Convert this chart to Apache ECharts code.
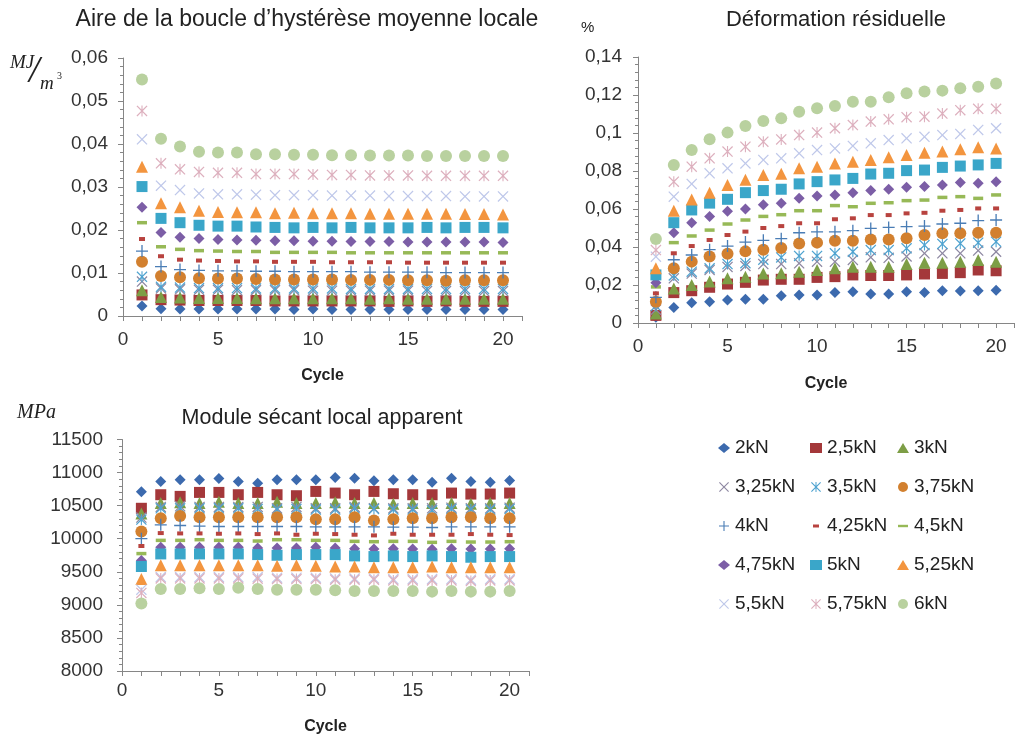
<!DOCTYPE html>
<html><head><meta charset="utf-8">
<script src="https://cdn.jsdelivr.net/npm/echarts@6/dist/echarts.min.js"></script>
<style>html,body{margin:0;padding:0;background:#fff}#c{width:1017px;height:736px}</style>
</head><body><div id="c"></div>
<script>
const cycles = [1,2,3,4,5,6,7,8,9,10,11,12,13,14,15,16,17,18,19,20];
const loads = ['2kN','2,5kN','3kN','3,25kN','3,5kN','3,75kN','4kN','4,25kN','4,5kN','4,75kN','5kN','5,25kN','5,5kN','5,75kN','6kN'];

// Aire de la boucle d'hystérèse moyenne locale (MJ/m3), one row per load
const aireValues = [
 [0.0023,0.0017,0.0016,0.0016,0.0016,0.0016,0.0016,0.0016,0.0015,0.0016,0.0015,0.0015,0.0015,0.0015,0.0015,0.0015,0.0015,0.0015,0.0015,0.0015],
 [0.0049,0.0038,0.0037,0.0036,0.0036,0.0036,0.0036,0.0035,0.0035,0.0035,0.0035,0.0035,0.0035,0.0034,0.0035,0.0034,0.0035,0.0034,0.0034,0.0034],
 [0.0060,0.0044,0.0043,0.0042,0.0042,0.0042,0.0041,0.0041,0.0041,0.0041,0.0041,0.0041,0.0040,0.0041,0.0040,0.0040,0.0040,0.0040,0.0040,0.0040],
 [0.0080,0.0064,0.0062,0.0061,0.0061,0.0060,0.0060,0.0060,0.0060,0.0059,0.0059,0.0059,0.0059,0.0059,0.0059,0.0058,0.0058,0.0058,0.0058,0.0058],
 [0.0091,0.0068,0.0066,0.0065,0.0065,0.0065,0.0064,0.0064,0.0064,0.0064,0.0064,0.0063,0.0063,0.0063,0.0063,0.0063,0.0063,0.0063,0.0063,0.0063],
 [0.0126,0.0093,0.0090,0.0088,0.0087,0.0087,0.0086,0.0085,0.0085,0.0085,0.0085,0.0084,0.0084,0.0084,0.0083,0.0083,0.0082,0.0083,0.0083,0.0083],
 [0.0151,0.0115,0.0108,0.0106,0.0105,0.0105,0.0104,0.0104,0.0103,0.0103,0.0103,0.0103,0.0102,0.0102,0.0102,0.0102,0.0101,0.0101,0.0101,0.0101],
 [0.0179,0.0139,0.0131,0.0129,0.0128,0.0127,0.0127,0.0126,0.0126,0.0126,0.0125,0.0125,0.0125,0.0125,0.0124,0.0124,0.0124,0.0124,0.0124,0.0124],
 [0.0217,0.0161,0.0155,0.0152,0.0151,0.0150,0.0150,0.0148,0.0148,0.0148,0.0148,0.0147,0.0147,0.0147,0.0147,0.0147,0.0147,0.0147,0.0147,0.0147],
 [0.0253,0.0194,0.0183,0.0180,0.0178,0.0177,0.0176,0.0175,0.0175,0.0174,0.0174,0.0173,0.0173,0.0173,0.0172,0.0172,0.0172,0.0172,0.0172,0.0171],
 [0.0301,0.0227,0.0217,0.0211,0.0209,0.0209,0.0207,0.0206,0.0205,0.0206,0.0205,0.0206,0.0205,0.0205,0.0205,0.0206,0.0205,0.0206,0.0206,0.0205],
 [0.0347,0.0262,0.0253,0.0245,0.0242,0.0241,0.0241,0.0239,0.0240,0.0239,0.0239,0.0239,0.0238,0.0238,0.0238,0.0238,0.0238,0.0237,0.0237,0.0236],
 [0.0411,0.0303,0.0293,0.0285,0.0283,0.0283,0.0282,0.0281,0.0281,0.0281,0.0280,0.0280,0.0280,0.0279,0.0279,0.0279,0.0279,0.0278,0.0278,0.0278],
 [0.0477,0.0355,0.0341,0.0335,0.0333,0.0333,0.0330,0.0330,0.0330,0.0329,0.0328,0.0328,0.0327,0.0327,0.0327,0.0326,0.0326,0.0326,0.0326,0.0326],
 [0.0550,0.0412,0.0394,0.0382,0.0380,0.0380,0.0376,0.0376,0.0375,0.0375,0.0374,0.0374,0.0373,0.0373,0.0373,0.0372,0.0372,0.0372,0.0372,0.0372]
];

// Déformation résiduelle (%), one row per load
const deformationValues = [
 [0.0030,0.0081,0.0107,0.0112,0.0121,0.0125,0.0125,0.0144,0.0147,0.0147,0.0161,0.0165,0.0153,0.0153,0.0165,0.0160,0.0170,0.0168,0.0170,0.0172],
 [0.0040,0.0160,0.0170,0.0188,0.0205,0.0214,0.0226,0.0230,0.0230,0.0240,0.0244,0.0253,0.0250,0.0250,0.0253,0.0258,0.0261,0.0265,0.0279,0.0275],
 [0.0050,0.0182,0.0200,0.0218,0.0235,0.0244,0.0261,0.0262,0.0270,0.0279,0.0288,0.0296,0.0296,0.0296,0.0310,0.0317,0.0317,0.0323,0.0332,0.0323],
 [0.0070,0.0235,0.0260,0.0279,0.0295,0.0300,0.0310,0.0310,0.0314,0.0323,0.0323,0.0332,0.0346,0.0343,0.0350,0.0367,0.0367,0.0367,0.0381,0.0375],
 [0.0090,0.0250,0.0270,0.0288,0.0310,0.0315,0.0333,0.0345,0.0353,0.0353,0.0367,0.0375,0.0384,0.0384,0.0393,0.0410,0.0416,0.0419,0.0423,0.0428],
 [0.0112,0.0288,0.0323,0.0350,0.0365,0.0377,0.0386,0.0395,0.0419,0.0423,0.0433,0.0433,0.0440,0.0440,0.0446,0.0463,0.0472,0.0472,0.0475,0.0475],
 [0.0135,0.0333,0.0358,0.0386,0.0405,0.0426,0.0435,0.0444,0.0475,0.0480,0.0480,0.0486,0.0498,0.0503,0.0507,0.0510,0.0521,0.0525,0.0539,0.0542],
 [0.0156,0.0367,0.0405,0.0437,0.0463,0.0481,0.0500,0.0510,0.0525,0.0525,0.0546,0.0551,0.0568,0.0568,0.0577,0.0580,0.0591,0.0595,0.0603,0.0603],
 [0.0190,0.0423,0.0458,0.0489,0.0521,0.0542,0.0561,0.0570,0.0591,0.0591,0.0618,0.0612,0.0630,0.0633,0.0644,0.0647,0.0661,0.0665,0.0656,0.0674],
 [0.0212,0.0475,0.0528,0.0560,0.0588,0.0600,0.0623,0.0630,0.0656,0.0668,0.0674,0.0686,0.0697,0.0704,0.0714,0.0718,0.0726,0.0739,0.0735,0.0744],
 [0.0253,0.0528,0.0595,0.0631,0.0651,0.0686,0.0697,0.0704,0.0732,0.0744,0.0753,0.0761,0.0784,0.0788,0.0802,0.0805,0.0819,0.0826,0.0832,0.0840],
 [0.0288,0.0591,0.0650,0.0686,0.0726,0.0754,0.0779,0.0786,0.0814,0.0823,0.0840,0.0849,0.0858,0.0872,0.0884,0.0896,0.0902,0.0914,0.0925,0.0918],
 [0.0349,0.0665,0.0732,0.0788,0.0814,0.0840,0.0858,0.0867,0.0893,0.0910,0.0919,0.0932,0.0946,0.0963,0.0972,0.0980,0.0989,0.0995,0.1016,0.1025],
 [0.0384,0.0744,0.0823,0.0867,0.0902,0.0928,0.0954,0.0966,0.0989,0.1002,0.1025,0.1042,0.1060,0.1072,0.1083,0.1086,0.1102,0.1120,0.1127,0.1127],
 [0.0442,0.0832,0.0910,0.0967,0.1002,0.1037,0.1063,0.1077,0.1112,0.1130,0.1142,0.1165,0.1165,0.1188,0.1209,0.1218,0.1223,0.1235,0.1244,0.1261]
];

// Module sécant local apparent (MPa), one row per load
const moduleValues = [
 [10710,10865,10890,10890,10910,10865,10840,10890,10890,10890,10925,10915,10875,10890,10890,10855,10915,10865,10855,10880],
 [10460,10665,10640,10700,10700,10665,10700,10665,10650,10715,10690,10665,10715,10680,10665,10665,10690,10675,10675,10690],
 [10380,10540,10550,10540,10560,10540,10540,10560,10540,10540,10550,10540,10540,10530,10540,10540,10540,10530,10540,10540],
 [10320,10480,10490,10480,10480,10480,10480,10460,10480,10460,10460,10480,10460,10460,10460,10460,10470,10460,10460,10470],
 [10290,10460,10460,10460,10460,10460,10450,10440,10450,10440,10440,10460,10450,10440,10440,10430,10450,10440,10440,10450],
 [10110,10310,10345,10325,10325,10325,10325,10325,10325,10295,10295,10325,10275,10295,10310,10310,10325,10325,10310,10310],
 [10000,10210,10200,10190,10185,10185,10185,10185,10185,10180,10180,10180,10180,10175,10175,10170,10180,10180,10180,10180],
 [9890,10085,10080,10080,10075,10080,10070,10080,10060,10075,10070,10060,10050,10075,10060,10060,10060,10070,10060,10055],
 [9775,9975,9975,9985,9975,9975,9965,9985,9985,9975,9975,9960,9955,9960,9960,9945,9960,9950,9950,9955],
 [9670,9870,9870,9870,9870,9870,9860,9860,9860,9870,9860,9850,9845,9850,9845,9840,9850,9845,9845,9850],
 [9580,9770,9770,9770,9770,9770,9760,9750,9760,9760,9760,9740,9730,9740,9730,9740,9730,9720,9730,9730],
 [9390,9600,9600,9600,9600,9600,9600,9590,9600,9590,9580,9580,9570,9570,9570,9580,9570,9570,9570,9570],
 [9230,9420,9420,9420,9420,9420,9420,9410,9410,9410,9400,9400,9400,9390,9390,9390,9390,9380,9390,9390],
 [9180,9400,9400,9400,9400,9400,9395,9390,9390,9390,9380,9380,9380,9370,9370,9370,9370,9360,9370,9370],
 [9020,9240,9240,9250,9240,9260,9240,9230,9230,9230,9220,9210,9210,9210,9210,9200,9210,9200,9200,9210]
];

// marker styles
const P_X = 'path://M0,0.8L0.8,0L5,4.2L9.2,0L10,0.8L5.8,5L10,9.2L9.2,10L5,5.8L0.8,10L0,9.2L4.2,5Z';
const P_AST = 'path://M0,0.8L0.8,0L5,4.2L9.2,0L10,0.8L5.8,5L10,9.2L9.2,10L5,5.8L0.8,10L0,9.2L4.2,5Z M4.5,0H5.5V10H4.5Z';
const P_PLUS = 'path://M4.45,0H5.55V4.45H10V5.55H5.55V10H4.45V5.55H0V4.45H4.45Z';
const colors = ['#3C6AAE','#A4383A','#7D9E46','#8E88A2','#4FA3D0','#D2802F','#4A7DB5','#B8433F','#97B957','#7C5EA6','#3AA6C9','#F3953F','#BFC8EA','#DDB0BE','#B9D19F'];
const symbols = ['diamond','rect','triangle',P_X,P_AST,'circle',P_PLUS,'rect','rect','diamond','rect','triangle',P_X,P_AST,'circle'];
const sizes = [11,11,12,11,11,12,12,[6,4],[10,3.5],11,11,12,11,11,12];
const legendIcons = ['diamond','rect','triangle',P_X,P_AST,'circle',P_PLUS,
  'path://M0,0M10,10M2,3.5H8V6.5H2Z','path://M0,0M10,10M0,3.8H10V6.2H0Z','diamond','rect','triangle',P_X,P_AST,'circle'];

const FONT = "'Liberation Sans', Arial, sans-serif";
const axisColor = '#868686';
const labelStyle = {color:'#333', fontSize:19, fontFamily:FONT};

function xAxisCfg(gi, margin, gap){
  return {type:'value', gridIndex:gi, min:0, max:21, interval:1,
    name:'Cycle', nameLocation:'middle', nameGap:gap,
    nameTextStyle:{fontWeight:'bold', fontSize:16, color:'#222', fontFamily:FONT},
    axisLine:{show:true, lineStyle:{color:axisColor}},
    axisTick:{show:true, length:5, lineStyle:{color:axisColor}},
    axisLabel:Object.assign({margin:margin, formatter:v => (v % 5 === 0 ? String(v) : '')}, labelStyle),
    splitLine:{show:false}};
}
function yAxisCfg(gi, min, max, interval, fmt, margin){
  return {type:'value', gridIndex:gi, min:min, max:max, interval:interval,
    axisLine:{show:true, lineStyle:{color:axisColor}},
    axisTick:{show:true, length:5, lineStyle:{color:axisColor}},
    minorTick:{show:true, splitNumber:5, length:3, lineStyle:{color:axisColor}},
    axisLabel:Object.assign({margin:margin, formatter:fmt}, labelStyle),
    splitLine:{show:false}};
}
const decFmt = v => String(Math.round(v*1000)/1000).replace('.', ',');

const series = [];
[aireValues, deformationValues, moduleValues].forEach((tbl, gi) => {
  loads.forEach((name, li) => {
    series.push({type:'scatter', name:name, xAxisIndex:gi, yAxisIndex:gi,
      symbol:symbols[li], symbolSize:sizes[li], symbolKeepAspect:false,
      itemStyle:{color:colors[li], opacity:1},
      emphasis:{disabled:true},
      data: cycles.map((c, i) => [c, tbl[li][i]])});
  });
});

const legendLefts = [713, 805, 892];
const legends = [0,1,2].map(col => ({
  orient:'vertical', left:legendLefts[col], top:433, itemGap:19, itemWidth:12, itemHeight:10,
  selectedMode:false,
  textStyle:{fontSize:19, color:'#222', fontFamily:FONT, lineHeight:20},
  data: loads.map((n, i) => ({name:n, icon:legendIcons[i], itemStyle:{color:colors[i]}})).filter((_, i) => i % 3 === col)
}));

const txt = (text, x, y, font, align) => ({type:'text', x:x, y:y, silent:true,
  style:{text:text, font:font, fill:'#222', align:align||'left', textAlign:align||'left', verticalAlign:'middle', textVerticalAlign:'middle'}});

const option = {
  animation:false,
  backgroundColor:'#fff',
  grid:[
    {left:123, top:58, width:399, height:258},
    {left:638, top:57, width:379, height:266},
    {left:122, top:439.5, width:407, height:232}
  ],
  xAxis:[xAxisCfg(0, 14, 52), xAxisCfg(1, 14, 53), xAxisCfg(2, 10, 48)],
  yAxis:[
    yAxisCfg(0, 0, 0.06, 0.01, decFmt, 15),
    yAxisCfg(1, 0, 0.14, 0.02, decFmt, 16),
    yAxisCfg(2, 8000, 11500, 500, v => String(v), 19)
  ],
  legend:legends,
  series:series,
  graphic:[
    txt('Aire de la boucle d\u2019hystérèse moyenne locale', 307, 20, "23px 'Liberation Sans'", 'center'),
    txt('Déformation résiduelle', 836, 20, "22px 'Liberation Sans'", 'center'),
    txt('Module sécant local apparent', 322, 418, "21.5px 'Liberation Sans'", 'center'),
    txt('MJ', 10, 63, "italic 19px 'Liberation Serif'"),
    txt('/', 29, 72, "italic 38px 'Liberation Serif'"),
    txt('m', 40, 84, "italic 19px 'Liberation Serif'"),
    txt('3', 57, 76, "10px 'Liberation Serif'"),
    txt('%', 581, 28, "15px 'Liberation Sans'"),
    txt('MPa', 17, 413, "italic 20px 'Liberation Serif'")
  ]
};
echarts.init(document.getElementById('c'), null, {renderer:'canvas'}).setOption(option);
</script></body></html>
